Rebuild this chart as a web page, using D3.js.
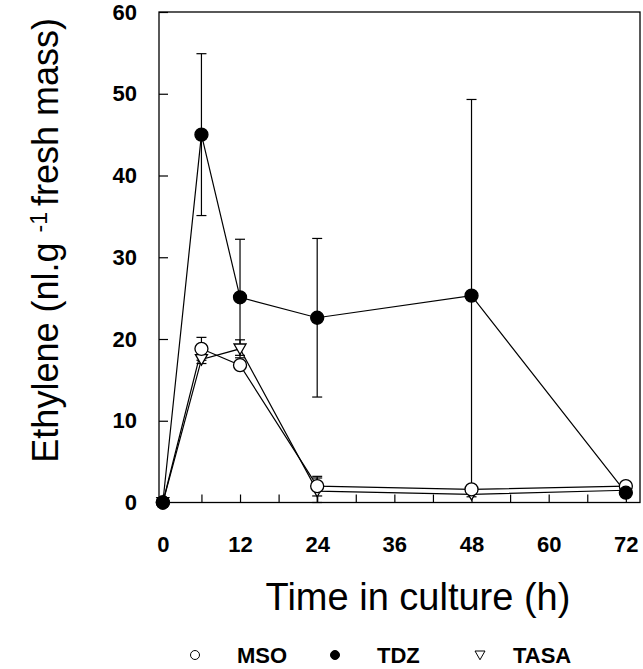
<!DOCTYPE html>
<html>
<head>
<meta charset="utf-8">
<script src="https://cdn.jsdelivr.net/npm/d3@7"></script>
<style>
  body { margin: 0; background: #fff; }
  text { font-family: "Liberation Sans", Arial, Helvetica, sans-serif; fill: #000; }
</style>
</head>
<body>
<div id="graph"></div>
<script>
// data
const hours = [0, 6, 12, 24, 48, 72]
const msoValues = [0, 18.8, 16.8, 2.0, 1.6, 2.0]
const msoErr = [0, 1.4, 0, 1.2, 0.3, 0]
const tdzValues = [0, 45, 25.1, 22.6, 25.3, 1.2]
const tdzErr = [0, 9.9, 7.1, 9.7, 24.0, 0]
const tasaValues = [0, 17.5, 18.8, 1.4, 1.0, 1.5]
const tasaErr = [0, 0.5, 1.1, 1.6, 0.3, 0]
const xTickValues = [0, 12, 24, 36, 48, 60, 72]
const xMinorTicks = [6, 18, 30, 42, 54, 66]
const yTickValues = [0, 10, 20, 30, 40, 50, 60]
const legendLabels = ["MSO", "TDZ", "TASA"]

const width = 643, height = 669
const margin = {left: 159, right: 3, top: 12, bottom: 166}

const svg = d3.select("#graph").append("svg")
    .attr("width", width)
    .attr("height", height)

const x = d3.scaleLinear()
    .domain([-0.6, 74.2])
    .range([margin.left, width - margin.right])
const y = d3.scaleLinear()
    .domain([0, 60])
    .range([height - margin.bottom - 0.5, margin.top])

const plotW = x.range()[1] - x.range()[0]
const plotH = y.range()[0] - y.range()[1]

// frame
svg.append("rect")
    .attr("x", margin.left)
    .attr("y", margin.top)
    .attr("width", plotW)
    .attr("height", plotH)
    .attr("fill", "none")
    .attr("stroke", "#000")
    .attr("stroke-width", 1.3)

// axes, ticks pointing inward
const xAxis = svg.append("g")
    .attr("transform", `translate(0,${y(0)})`)
    .call(d3.axisBottom(x)
        .tickValues(xTickValues.concat(xMinorTicks).sort((a, b) => a - b))
        .tickSize(-8)
        .tickFormat(d => xTickValues.includes(d) ? d : ""))
xAxis.select(".domain").remove()
xAxis.selectAll("line").attr("stroke-width", 1.2)
xAxis.selectAll("text")
    .attr("y", 34)
    .attr("font-size", 22)
    .attr("font-weight", "bold")
    .attr("font-family", "'Liberation Sans', Arial, sans-serif")

const yAxis = svg.append("g")
    .attr("transform", `translate(${margin.left},0)`)
    .call(d3.axisLeft(y)
        .tickValues(yTickValues)
        .tickSize(-9))
yAxis.select(".domain").remove()
yAxis.selectAll("line").attr("stroke-width", 1.2)
yAxis.selectAll("text")
    .attr("x", -22)
    .attr("font-size", 22)
    .attr("font-weight", "bold")
    .attr("font-family", "'Liberation Sans', Arial, sans-serif")

const series = [
    {name: "MSO", values: msoValues, err: msoErr, shape: "open"},
    {name: "TDZ", values: tdzValues, err: tdzErr, shape: "filled"},
    {name: "TASA", values: tasaValues, err: tasaErr, shape: "triangle"}
]

const line = d3.line()
    .x(d => x(d.h))
    .y(d => y(d.v))

const plot = svg.append("g")

series.forEach(s => {
    const pts = hours.map((h, i) => ({h: h, v: s.values[i], e: s.err[i]}))
    // error bars
    const eb = plot.append("g")
        .selectAll("g")
        .data(pts.filter(d => d.e > 0))
        .enter().append("g")
        .attr("stroke", "#000")
        .attr("stroke-width", 1.2)
    eb.append("line")
        .attr("x1", d => x(d.h)).attr("x2", d => x(d.h))
        .attr("y1", d => y(Math.max(0, d.v - d.e))).attr("y2", d => y(d.v + d.e))
    eb.append("line")
        .attr("x1", d => x(d.h) - 5).attr("x2", d => x(d.h) + 5)
        .attr("y1", d => y(d.v + d.e)).attr("y2", d => y(d.v + d.e))
    eb.append("line")
        .attr("x1", d => x(d.h) - 5).attr("x2", d => x(d.h) + 5)
        .attr("y1", d => y(Math.max(0, d.v - d.e))).attr("y2", d => y(Math.max(0, d.v - d.e)))
    s.pts = pts
    plot.append("path")
        .datum(pts)
        .attr("d", line)
        .attr("fill", "none")
        .attr("stroke", "#000")
        .attr("stroke-width", 1.2)
})

function drawMarker(g, shape, r) {
    if (shape == "triangle") {
        g.append("path")
            .attr("d", `M${-r},${-r * 0.8}L${r},${-r * 0.8}L0,${r * 0.95}Z`)
            .attr("fill", "#fff")
            .attr("stroke", "#000")
            .attr("stroke-width", 1.3)
    } else {
        g.append("circle")
            .attr("r", r)
            .attr("fill", shape == "filled" ? "#000" : "#fff")
            .attr("stroke", "#000")
            .attr("stroke-width", 1.3)
    }
}

// markers: triangles first, then open circles, filled on top
;[series[2], series[0], series[1]].forEach(s => {
    plot.append("g")
        .selectAll("g")
        .data(s.pts)
        .enter().append("g")
        .attr("transform", d => `translate(${x(d.h)},${y(d.v)})`)
        .each(function() { drawMarker(d3.select(this), s.shape, s.shape == "triangle" ? 6 : 6.5) })
})

// axis titles
const yTitle = svg.append("text")
    .attr("transform", "translate(58,18) rotate(-90)")
    .attr("text-anchor", "end")
    .attr("font-size", 36)
yTitle.append("tspan").text("Ethylene (nl.g ")
yTitle.append("tspan").attr("dy", -11).attr("font-size", 23).text("-1")
yTitle.append("tspan").attr("dy", 11).attr("dx", 6).text("fresh mass)")

svg.append("text")
    .attr("x", 418)
    .attr("y", 610)
    .attr("text-anchor", "middle")
    .attr("font-size", 38)
    .text("Time in culture (h)")

// legend
const legendX = [195, 335, 480]
const legend = svg.append("g")
    .selectAll("g")
    .data(series)
    .enter().append("g")
    .attr("transform", (d, i) => `translate(${legendX[i]},655)`)
legend.each(function(d) {
    const g = d3.select(this)
    const m = g.append("g")
    drawMarker(m, d.shape, d.shape == "triangle" ? 5 : 4.5)
    m.selectAll("*").attr("stroke-width", 1)
})
legend.append("text")
    .attr("x", (d, i) => i == 2 ? 33 : 42)
    .attr("y", 8)
    .attr("font-size", 22)
    .attr("font-weight", "bold")
    .text((d, i) => legendLabels[i])
</script>
</body>
</html>
